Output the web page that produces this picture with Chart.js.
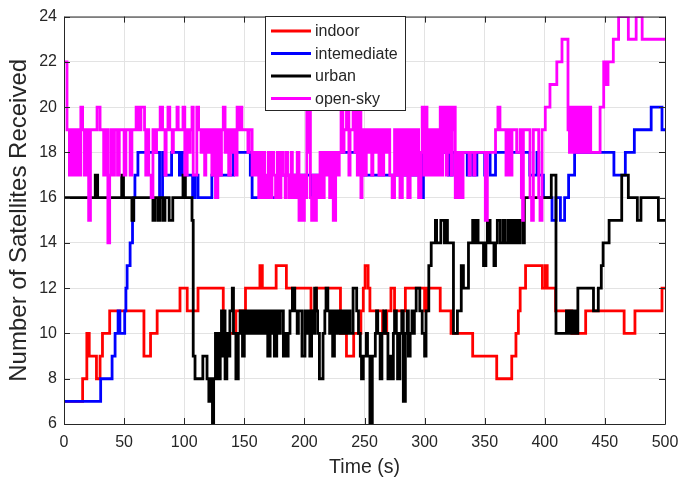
<!DOCTYPE html>
<html lang="en">
<head>
    <meta charset="UTF-8">
    <title>Number of Satellites Received</title>
    <style>
        html, body {
            margin: 0;
            padding: 0;
            background: #ffffff;
        }
        .chart-box {
            width: 679px;
            height: 482px;
        }
    </style>
</head>
<body>
    <div class="chart-box">
        <canvas id="satChart" width="679" height="482"></canvas>
    </div>

    <script src="https://cdn.jsdelivr.net/npm/chart.js"></script>
    <script>
        // change points: time (s) and the value held from that time on
        const indoorTime = [0, 15.5, 19, 21, 27, 30, 32, 38, 66.5, 72, 77.5, 96.5, 102.5, 111.5, 132.5, 143, 151, 163, 165, 176.5, 185, 205.5, 210, 230, 235, 241, 247, 249, 250.5, 253, 254.5, 265, 268.5, 272, 275, 284, 300, 302, 313, 322, 340, 360, 372.5, 376, 378, 379.5, 384, 398, 400.5, 402, 409, 422.5, 434, 466, 475, 497.5, 500];
        const indoorSats = [7, 8, 10, 9, 8, 9, 10, 11, 9, 10, 11, 12, 11, 12, 10, 11, 12, 13, 12, 13, 12, 11, 12, 10, 9, 10, 11, 12, 13, 12, 11, 10, 11, 12, 11, 12, 11, 12, 11, 10, 9, 8, 9, 10, 11, 12, 13, 12, 13, 12, 11, 10, 11, 10, 11, 12, 12];

        const intermTime = [0, 30.5, 40, 42.5, 45, 46.5, 50.5, 51.5, 52.5, 55, 57, 58, 59, 61.5, 79.5, 82, 84.3, 89.5, 96, 98, 100.5, 107, 109, 111.5, 123, 141, 155, 156.5, 180, 205, 207, 214, 248.5, 297, 299, 320, 323, 335.5, 338, 340.5, 343.5, 350, 351.5, 354.5, 359, 387.5, 393.5, 395, 398.8, 406, 409.3, 413, 416.5, 419.8, 424.8, 457.5, 467, 474.5, 488.5, 497.5, 500];
        const intermSats = [7, 8, 9, 10, 11, 10, 11, 12, 13, 14, 15, 16, 17, 18, 16, 18, 17, 18, 17, 18, 17, 16, 17, 16, 17, 18, 17, 16, 17, 16, 17, 18, 17, 16, 18, 17, 18, 17, 18, 17, 18, 17, 18, 17, 18, 17, 18, 17, 16, 15, 16, 15, 16, 17, 18, 17, 18, 19, 20, 19, 19];

        const urbanTime = [0, 26, 28, 48, 49.5, 56.5, 58, 74, 75.5, 78, 80, 82.5, 84, 87.5, 90.5, 99, 101, 106.5, 107.5, 109, 115.5, 119, 120.5, 122, 123.5, 124.5, 126, 128, 130, 131, 132, 133, 134, 135.5, 137, 138, 140, 141, 143, 145,
            146.5, 148.5, 150, 152, 153, 155, 156, 158, 159.5, 161, 162, 164, 165, 167, 168, 169.5, 171.5, 173, 174, 175, 177, 179, 180, 182.5, 184, 185, 186.5, 188, 190, 192, 194, 195, 198,
            200.5, 202, 203, 204.5, 206, 207, 208.5, 210, 211, 212.5, 215.5, 217, 218, 219.5, 221, 222, 223.5, 225, 226.5, 228, 229, 230.5, 232, 233.5, 235, 236.5, 238, 240.5, 243.5, 245, 246.5, 247.5, 249,
            251.5, 252.5, 254.5, 256.5, 259, 260, 261, 263, 264.5, 266, 267.5, 269.5, 271, 272, 274, 275, 276.5, 277.5, 279.5, 281, 282.3, 284, 285.5, 286.5, 288, 289.5, 290.5, 291.5, 293, 296, 298,
            300, 301.2, 303.5, 305.5, 309, 310, 313.5, 316.5, 318, 319, 324, 327.3, 330.5, 332.3, 336.5, 340, 341.5, 343, 344.5, 349, 351, 352.2, 354.5, 357.7, 359, 360.5, 363, 365.5, 367, 369.5, 371, 373, 375, 376.5, 378, 379.5, 382, 383,
            405.4, 409.3, 418, 420, 421, 422.5, 424.5, 426, 427.5, 440.5, 444.5, 447, 448.5, 453.5, 464, 469.5, 477, 480, 494.5, 500];
        const urbanSats = [16, 17, 16, 17, 16, 15, 16, 15, 16, 15, 16, 15, 16, 15, 16, 17, 16, 15, 9, 8, 9, 8, 7, 8, 6, 8, 10, 8, 10, 11, 9, 11, 8, 10, 9, 11, 12, 10, 8, 10,
            11, 9, 11, 10, 11, 10, 11, 10, 11, 10, 11, 10, 11, 10, 11, 9, 11, 10, 11, 9, 11, 10, 11, 9, 10, 9, 10, 11, 12, 11, 10, 11, 9,
            11, 10, 11, 9, 11, 10, 12, 11, 10, 8, 10, 11, 12, 11, 10, 11, 9, 11, 10, 11, 10, 11, 10, 11, 10, 11, 10, 12, 11, 10, 9, 8, 9,
            10, 9, 6, 9, 10, 11, 10, 8, 10, 11, 10, 8, 9, 8, 10, 11, 10, 8, 10, 11, 7, 10, 11, 9, 10, 11, 10, 11, 12, 11, 10,
            9, 11, 13, 14, 15, 14, 15, 14, 15, 14, 10, 11, 13, 12, 14, 15, 14, 15, 14, 13, 14, 15, 14, 13, 14, 15, 14, 15, 14, 15, 14, 15, 14, 15, 14, 15, 14, 16,
            17, 10, 11, 10, 11, 10, 11, 10, 12, 11, 12, 13, 14, 15, 17, 16, 15, 16, 15, 15];

        const openSkyTime = [0, 2.5, 4.5, 6.5, 7.5, 9, 10, 11, 12.5, 14, 15.5, 17, 18.5, 20.5, 22, 27.5, 30, 33, 35, 36.5, 38, 39, 41, 42, 44.5, 46,
            50, 51.5, 55, 56.5, 60, 62, 64, 67, 68, 69.5, 70.5, 72.5, 74, 76, 77, 80, 82, 84, 85, 86.5, 88, 90, 91, 94, 95, 99,
            100.5, 102.5, 104, 105, 106.5, 107.5, 110.5, 112, 114, 115, 117, 118, 120, 121, 123, 124, 126, 128, 130, 131, 132.5, 134, 135.5, 137, 138.5, 140, 141, 142.5, 144, 145, 146, 148,
            153, 154, 156.5, 158, 159, 160.5, 162, 163, 164.5, 166, 167, 168, 170, 171, 173, 174.5, 176, 177.5, 179, 180.5, 182.5, 184, 185, 186, 187.5, 189, 190, 191.5, 193, 194, 195.5, 197, 198,
            200, 201, 202, 203, 204, 205, 206, 207.5, 208.5, 210, 211, 213, 215, 216.5, 218, 219, 221, 222.5, 224, 226, 227.5, 229, 230.5, 232, 233, 235, 237, 238, 240.5, 242, 243, 244, 245.5, 247, 248,
            250, 251.5, 253, 254, 256, 257, 259, 260, 262, 263, 265, 266, 268, 269, 271, 273, 275, 276.5, 278, 279.5, 281.5, 283, 284.5, 286, 288, 289, 290.5, 292, 293, 295, 297, 298, 299.5,
            301, 302, 303.5, 305, 306, 308, 309, 311, 312, 313, 314, 315, 316, 317, 318, 319, 320, 321, 322, 323, 324, 325.5, 327, 328, 329.5, 330.5, 332, 337, 338, 341, 342, 350.5,
            352.2, 359, 361, 362.7, 367.7, 369.4, 371, 372.7, 376.6, 379.4, 380.5, 381.5, 382.2, 387.7, 389, 390.5, 394.9, 396, 397.7,
            400.4, 404.3, 410, 414.3, 419.3, 420.5, 421.5, 422.5, 424, 425, 426.5, 427.5, 429, 430, 431.5, 432.5, 434, 435, 436.5, 438.2, 446, 449, 450.3, 452.6, 457, 461.4, 469.5, 476, 481, 500];
        const openSkySats = [22, 19, 17, 19, 17, 19, 17, 19, 17, 20, 19, 17, 19, 15, 19, 20, 19, 17, 19, 14, 17, 19, 17, 19, 17, 19,
            17, 19, 17, 19, 20, 19, 20, 19, 17, 19, 17, 16, 19, 18, 19, 20, 19, 17, 19, 20, 19, 18, 19, 20, 19, 20,
            17, 19, 18, 19, 20, 17, 20, 19, 18, 19, 17, 19, 18, 19, 17, 19, 16, 19, 17, 19, 20, 18, 19, 17, 19, 18, 19, 17, 20, 19, 20, 19,
            18, 19, 17, 18, 17, 18, 16, 18, 16, 18, 17, 16, 18, 16, 18, 17, 16, 18, 16, 18, 17, 16, 18, 17, 16, 18, 16, 17, 16, 18, 15, 17, 15,
            17, 16, 20, 18, 20, 16, 15, 17, 15, 17, 16, 18, 16, 18, 17, 18, 16, 18, 15, 18, 17, 18, 20, 18, 19, 20, 17, 19, 20, 18, 20, 17, 20, 16, 19,
            17, 19, 18, 19, 17, 19, 18, 19, 17, 19, 17, 19, 18, 19, 17, 16, 19, 17, 19, 16, 19, 17, 19, 16, 19, 17, 19, 17, 19, 16, 18, 20, 17,
            20, 17, 19, 17, 19, 17, 19, 17, 19, 20, 17, 20, 18, 20, 17, 20, 18, 20, 17, 19, 20, 16, 18, 16, 18, 16, 18, 17, 18, 17, 18, 15,
            18, 19, 20, 19, 17, 19, 17, 19, 18, 19, 16, 15, 19, 16, 15, 19, 16, 15, 19,
            20, 21, 22, 23, 19, 18, 20, 18, 20, 18, 20, 18, 20, 18, 20, 18, 20, 18, 20, 18, 20, 22, 21, 22, 23, 24, 23, 24, 23, 23];

        const seriesNames = ['indoor', 'intemediate', 'urban', 'open-sky'];
        const seriesColors = ['#ff0000', '#0000ff', '#000000', '#ff00ff'];
        const timeTicks = [0, 50, 100, 150, 200, 250, 300, 350, 400, 450, 500];
        const satTicks = [6, 8, 10, 12, 14, 16, 18, 20, 22, 24];

        const axisColor = '#262626';
        const fontFamily = '"Liberation Sans", Arial, Helvetica, sans-serif';

        function toPoints(times, sats) {
            return times.map((t, i) => ({ x: t, y: sats[i] }));
        }

        const allSeries = [
            toPoints(indoorTime, indoorSats),
            toPoints(intermTime, intermSats),
            toPoints(urbanTime, urbanSats),
            toPoints(openSkyTime, openSkySats)
        ];

        // box round the axes with inward ticks on all four sides
        const boxPlugin = {
            id: 'boxPlugin',
            afterDatasetsDraw(chart) {
                const { ctx, chartArea: a, scales } = chart;
                ctx.save();
                ctx.strokeStyle = axisColor;
                ctx.lineWidth = 1;
                ctx.beginPath();
                ctx.rect(a.left + 0.5, a.top + 0.5, a.right - a.left, a.bottom - a.top);
                timeTicks.forEach(v => {
                    const x = Math.round(scales.x.getPixelForValue(v)) + 0.5;
                    ctx.moveTo(x, a.bottom); ctx.lineTo(x, a.bottom - 6);
                    ctx.moveTo(x, a.top); ctx.lineTo(x, a.top + 6);
                });
                satTicks.forEach(v => {
                    const y = Math.round(scales.y.getPixelForValue(v)) + 0.5;
                    ctx.moveTo(a.left, y); ctx.lineTo(a.left + 6, y);
                    ctx.moveTo(a.right, y); ctx.lineTo(a.right - 6, y);
                });
                ctx.stroke();
                ctx.restore();
            }
        };

        // legend box in the upper middle, like the original figure
        const legendPlugin = {
            id: 'legendPlugin',
            afterDraw(chart) {
                const { ctx } = chart;
                const left = 265, top = 16, w = 140, h = 94;
                ctx.save();
                ctx.fillStyle = '#ffffff';
                ctx.fillRect(left, top, w, h);
                ctx.strokeStyle = axisColor;
                ctx.lineWidth = 1;
                ctx.strokeRect(left + 0.5, top + 0.5, w, h);
                ctx.font = '16px ' + fontFamily;
                ctx.textBaseline = 'middle';
                chart.data.datasets.forEach((ds, i) => {
                    const y = top + 15 + i * 22.5;
                    ctx.strokeStyle = ds.borderColor;
                    ctx.lineWidth = 2.8;
                    ctx.beginPath();
                    ctx.moveTo(left + 6, y);
                    ctx.lineTo(left + 46, y);
                    ctx.stroke();
                    ctx.fillStyle = axisColor;
                    ctx.fillText(ds.label, left + 50, y + 1);
                });
                ctx.restore();
            }
        };

        const ctx = document.getElementById('satChart').getContext('2d');
        const satChart = new Chart(ctx, {
            type: 'line',
            data: {
                datasets: allSeries.map((pts, i) => ({
                    label: seriesNames[i],
                    data: pts,
                    borderColor: seriesColors[i],
                    backgroundColor: seriesColors[i],
                    borderWidth: 2.8,
                    pointRadius: 0,
                    stepped: true,
                    fill: false,
                    order: 4 - i
                }))
            },
            options: {
                responsive: false,
                animation: false,
                layout: { padding: { left: 0, right: 14, top: 16, bottom: 0 } },
                plugins: {
                    legend: { display: false },
                    tooltip: { enabled: false }
                },
                scales: {
                    x: {
                        type: 'linear',
                        min: 0,
                        max: 500,
                        afterFit: scale => {
                            scale.height = 58;
                            scale.paddingLeft = 0;
                            scale.paddingRight = 0;
                        },
                        afterBuildTicks: scale => { scale.ticks = timeTicks.map(v => ({ value: v })); },
                        grid: { color: '#e3e3e3', drawTicks: false },
                        border: { display: false },
                        ticks: { color: axisColor, padding: 9, maxRotation: 0, font: { family: fontFamily, size: 16 } },
                        title: { display: true, text: 'Time (s)', color: axisColor, padding: { top: 0, bottom: 3 }, font: { family: fontFamily, size: 19.5 } }
                    },
                    y: {
                        min: 6,
                        max: 24,
                        afterFit: scale => { scale.width = 64; },
                        afterBuildTicks: scale => { scale.ticks = satTicks.map(v => ({ value: v })); },
                        grid: { color: '#e3e3e3', drawTicks: false },
                        border: { display: false },
                        ticks: { color: axisColor, padding: 7, font: { family: fontFamily, size: 16 } },
                        title: { display: true, text: 'Number of Satellites Received', color: axisColor, padding: { top: 5, bottom: 0 }, font: { family: fontFamily, size: 24 } }
                    }
                }
            },
            plugins: [boxPlugin, legendPlugin]
        });
    </script>
</body>
</html>
